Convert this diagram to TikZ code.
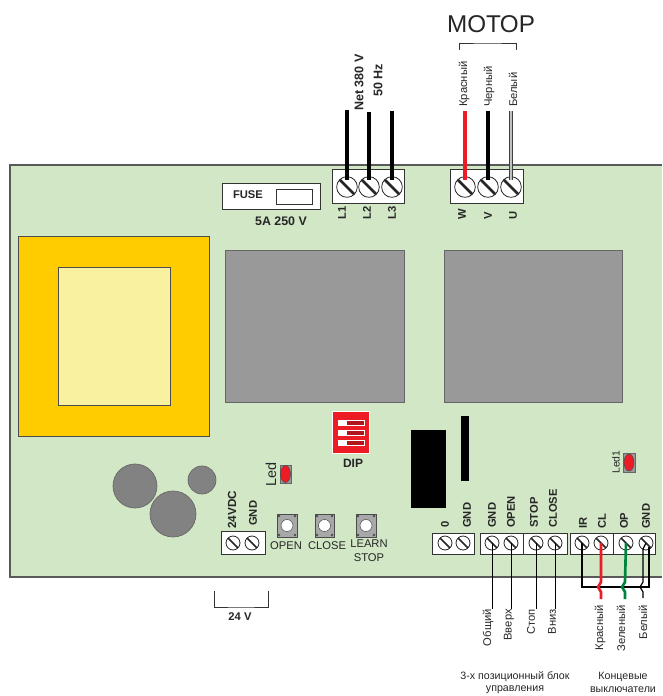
\documentclass[tikz,border=0pt]{standalone}
\usepackage{fontspec}
\setmainfont{Liberation Sans}
\usepackage{xcolor}
\definecolor{boardgreen}{HTML}{D1E7C5}
\definecolor{relaygray}{HTML}{999999}
\definecolor{coreyellow}{HTML}{FFCC00}
\definecolor{corepale}{HTML}{F9F19F}
\definecolor{ledred}{HTML}{ED1C24}
\definecolor{wiregreen}{HTML}{00853E}
\tikzset{
  txt/.style={inner sep=0pt,font=\fontsize{8.4}{10}\selectfont,text=black!85},
  btxt/.style={txt,font=\fontsize{8.4}{10}\selectfont\bfseries},
  upbtxt/.style={btxt,rotate=90,anchor=west},
  uptxt/.style={txt,rotate=90,anchor=west},
  dntxt/.style={txt,rotate=90,anchor=east},
  termblock/.style={draw=black!80,fill=white,line width=0.6pt},
  bigscrew/.style={circle,draw=black!85,fill=none,inner sep=0pt,minimum size=15.5pt,line width=0.6pt,
    path picture={\draw[line width=2pt,black!85] (path picture bounding box.north west) -- (path picture bounding box.south east);}},
  smallscrew/.style={bigscrew,minimum size=10.5pt,
    path picture={\draw[line width=1.3pt,black!85] (path picture bounding box.north west) -- (path picture bounding box.south east);}},
  hwire/.style={line width=2.4pt,black},
  twire/.style={line width=0.6pt,black},
  keybody/.style={draw=black!70,fill=relaygray!85,line width=0.6pt},
  keydot/.style={fill=black!70},
  dipsw/.style={draw=white,fill=ledred!75!black,line width=0.7pt},
  graypart/.style={draw=black!60,fill=relaygray,line width=0.5pt},
  capbody/.style={draw=black!60,fill=relaygray!85!black,line width=0.5pt},
  ledbody/.style={draw=black!70,fill=ledred,line width=0.4pt},
  keycap/.style={draw=black!70,fill=white,line width=0.4pt},
}
\begin{document}
\begin{tikzpicture}[x=0.75pt,y=-0.75pt]
          \clip (0,0) rectangle (662,696);
          % board
          \fill[boardgreen] (10,165) rectangle (662,577);
          \draw[black!65,line width=0.9pt] (662,165) -- (10,165) -- (10,577) -- (662,577);

          % transformer and relays
          \draw[draw=black!70,fill=coreyellow,line width=0.6pt] (18,236) rectangle (209,436);
          \draw[draw=black!70,fill=corepale,line width=0.6pt] (58,267) rectangle (170,405);
          \draw[graypart] (225,250) rectangle (404,402);
          \draw[graypart] (444,250) rectangle (622,402);

          % capacitors
          \draw[capbody] (135,486) circle (22);
          \draw[capbody] (173,514) circle (23);
          \draw[capbody] (202,480) circle (14);

          % black parts
          \fill[black] (411,430) rectangle (446,508);
          \fill[black] (461,416) rectangle (469,481);

          % fuse
          \draw[termblock] (222,183) rectangle (320,209);
          \draw[termblock] (276,189) rectangle (312,204);
          \node[btxt] (fuselabel) at (248,195) {FUSE};
          \node[btxt,font=\fontsize{9.3}{10}\selectfont\bfseries] (fuserating) at (281,221) {5A 250 V};

          % dip switch
          \draw[fill=ledred,draw=white,line width=0.7pt] (332,411) rectangle (369,453);
          \draw[dipsw] (338,420) rectangle (364,425);
          \draw[dipsw] (338,430) rectangle (364,435);
          \draw[dipsw] (338,440) rectangle (364,445);
          \fill[white] (338,419.5) rectangle (347,425.5);
          \fill[white] (338,429.5) rectangle (347,435.5);
          \fill[white] (338,439.5) rectangle (347,445.5);
          \node[btxt,font=\fontsize{9}{10}\selectfont\bfseries] (diplabel) at (353,463) {DIP};

          % leds
          \draw[graypart] (280,465) rectangle (291,483);
          \draw[ledbody] (285.5,474) ellipse (5 and 8.5);
          \node[uptxt,font=\fontsize{10.8}{12}\selectfont] (led) at (271,487) {Led};
          \draw[graypart] (623,453) rectangle (635,472);
          \draw[ledbody] (629,462.5) ellipse (5 and 8.5);
          \node[uptxt,font=\fontsize{7.8}{9}\selectfont] (led1) at (616,474) {Led1};

          % buttons
          \foreach \bx/\bw in {287/10,324.5/9.5,366/10} {
            \draw[keybody] (\bx-\bw,514) rectangle (\bx+\bw,537);
            \draw[keycap] (\bx,525.5) circle (6);
            \fill[keydot] (\bx-\bw+2,516) circle (1.3);
            \fill[keydot] (\bx+\bw-2,516) circle (1.3);
            \fill[keydot] (\bx-\bw+2,535) circle (1.3);
            \fill[keydot] (\bx+\bw-2,535) circle (1.3);
          }
          \node[txt] (btnopen) at (286,546) {OPEN};
          \node[txt] (btnclose) at (327,546) {CLOSE};
          \node[txt] (btnlearn) at (369,544) {LEARN};
          \node[txt] (btnstop) at (369,558) {STOP};

          % terminal blocks
          \draw[termblock] (332,169) rectangle (404,203);
          \draw[termblock] (450,169) rectangle (523,203);
          \draw[termblock] (221,531) rectangle (265,554);
          \draw[termblock] (432,533) rectangle (474,554);
          \draw[termblock] (480,533) rectangle (523,554);
          \draw[termblock] (523,533) rectangle (567,554);
          \draw[termblock] (570,533) rectangle (613,554);
          \draw[termblock] (613,533) rectangle (655,554);

          % screws
          \node[bigscrew] (l1) at (347,187) {};
          \node[bigscrew] (l2) at (369,187) {};
          \node[bigscrew] (l3) at (392,187) {};
          \node[bigscrew] (w) at (465,187) {};
          \node[bigscrew] (v) at (488,187) {};
          \node[bigscrew] (u) at (511,187) {};
          \node[smallscrew] (vdc) at (233,543) {};
          \node[smallscrew] (vgnd) at (252,543) {};
          \node[smallscrew] (zero) at (445,543) {};
          \node[smallscrew] (zgnd) at (463,543) {};
          \node[smallscrew] (cgnd) at (492,543) {};
          \node[smallscrew] (copen) at (511,543) {};
          \node[smallscrew] (cstop) at (536,543) {};
          \node[smallscrew] (cclose) at (555,543) {};
          \node[smallscrew] (ir) at (582,543) {};
          \node[smallscrew] (cl) at (601,543) {};
          \node[smallscrew] (op) at (626,543) {};
          \node[smallscrew] (sgnd) at (646,543) {};

          % mains and motor wires
          \coordinate (l1top) at (347,110);
          \coordinate (l2top) at (369,112);
          \coordinate (l3top) at (392,111);
          \coordinate (wtop) at (465,111);
          \coordinate (vtop) at (488,111);
          \coordinate (utop) at (511,111);
          \draw[hwire,shorten >=5pt] (l1top) -- (l1.center);
          \draw[hwire,shorten >=5pt] (l2top) -- (l2.center);
          \draw[hwire,shorten >=5pt] (l3top) -- (l3.center);
          \draw[hwire,color=ledred,shorten >=5pt] (wtop) -- (w.center);
          \draw[hwire,shorten >=5pt] (vtop) -- (v.center);
          \draw[black!75,line width=2.8pt,shorten >=5pt] (utop) -- (u.center);
          \draw[black!25,line width=1.5pt,shorten >=5pt] (utop) -- (u.center);

          % control wires
          \coordinate (cgndend) at (492,609);
          \coordinate (copenend) at (511,609);
          \coordinate (cstopend) at (536,609);
          \coordinate (ccloseend) at (555,609);
          \draw[twire] (cgnd.center) -- (cgndend);
          \draw[twire] (copen.center) -- (copenend);
          \draw[twire] (cstop.center) -- (cstopend);
          \draw[twire] (cclose.center) -- (ccloseend);

          % limit switch wires
          \coordinate (irbus) at (582,587);
          \coordinate (gndbus) at (649,587);
          \coordinate (gndtop) at (649,547);
          \draw[hwire,line width=1.9pt] (ir.center) -- (irbus) -- (gndbus) -- (gndtop);
          \draw[hwire,color=ledred,line width=2pt] (cl.center) -- (601,582) .. controls (601,584) and (598,585) .. (598,587) .. controls (598,589) and (601,590) .. (601,592) -- (601,599);
          \draw[hwire,color=wiregreen,line width=2pt] (op.center) -- (625,582) .. controls (625,584) and (622,585) .. (622,587) .. controls (622,589) and (625,590) .. (625,592) -- (625,599);
          \draw[twire,line width=0.9pt] (sgnd.center) -- (643,549) -- (643,582) .. controls (643,584) and (640,585) .. (640,587) .. controls (640,589) and (643,590) .. (643,592) -- (643,598);

          % motor bracket
          \coordinate (mbl) at (459,50);
          \coordinate (mbr) at (516,50);
          \draw[black!80,line width=0.6pt] (mbl) |- (487,43) -| (mbr);
          \node[txt,font=\fontsize{18.2}{20}\selectfont] (motor) at (491,24) {МОТОР};

          % 24 V bracket
          \coordinate (vbl) at (214,591);
          \coordinate (vbr) at (268,591);
          \draw[black!80,line width=0.6pt] (vbl) |- (241,607) -| (vbr);
          \node[btxt] (vlabel) at (240,617) {24 V};

          % labels up
          \node[upbtxt,font=\fontsize{9.4}{10}\selectfont\bfseries] (net) at (359,111) {Net 380 V};
          \node[upbtxt,font=\fontsize{9.4}{10}\selectfont\bfseries] (hz) at (378,97) {50 Hz};
          \node[uptxt] (red) at (464,107) {Красный};
          \node[uptxt] (blk) at (489,107) {Черный};
          \node[uptxt] (wht) at (513,107) {Белый};

          \node[upbtxt] (tl1) at (342,220) {L1};
          \node[upbtxt] (tl2) at (367,220) {L2};
          \node[upbtxt] (tl3) at (392,220) {L3};
          \node[upbtxt] (tw) at (462,220) {W};
          \node[upbtxt] (tv) at (488,220) {V};
          \node[upbtxt] (tu) at (513,220) {U};

          \node[upbtxt,font=\fontsize{8.8}{10}\selectfont\bfseries] (t24) at (232,529) {24VDC};
          \node[upbtxt] (tvgnd) at (253,526) {GND};
          \node[upbtxt] (t0) at (445,528) {0};
          \node[upbtxt] (tzgnd) at (467,528) {GND};
          \node[upbtxt] (tcgnd) at (492,528) {GND};
          \node[upbtxt] (tcopen) at (511,528) {OPEN};
          \node[upbtxt] (tcstop) at (534,528) {STOP};
          \node[upbtxt] (tcclose) at (553,528) {CLOSE};
          \node[upbtxt] (tir) at (583,529) {IR};
          \node[upbtxt] (tcl) at (602,529) {CL};
          \node[upbtxt] (top) at (624,529) {OP};
          \node[upbtxt] (tsgnd) at (646,529) {GND};

          % labels down
          \node[dntxt] (dcom) at (488,609) {Общий};
          \node[dntxt] (dup) at (509,609) {Вверх};
          \node[dntxt] (dstop) at (531,609) {Стоп};
          \node[dntxt] (ddown) at (552,609) {Вниз};
          \node[dntxt] (dred) at (600,605) {Красный};
          \node[dntxt] (dgrn) at (621,605) {Зеленый};
          \node[dntxt] (dwht) at (643,605) {Белый};

          % captions
          \node[txt,font=\fontsize{8}{10}\selectfont] (capa) at (515,677) {3-х позиционный блок};
          \node[txt,font=\fontsize{8}{10}\selectfont] (capb) at (515,690) {управления};
          \node[txt,font=\fontsize{8}{10}\selectfont] (capc) at (623,677) {Концевые};
          \node[txt,font=\fontsize{8}{10}\selectfont] (capd) at (623,690) {выключатели};
\end{tikzpicture}
\end{document}
